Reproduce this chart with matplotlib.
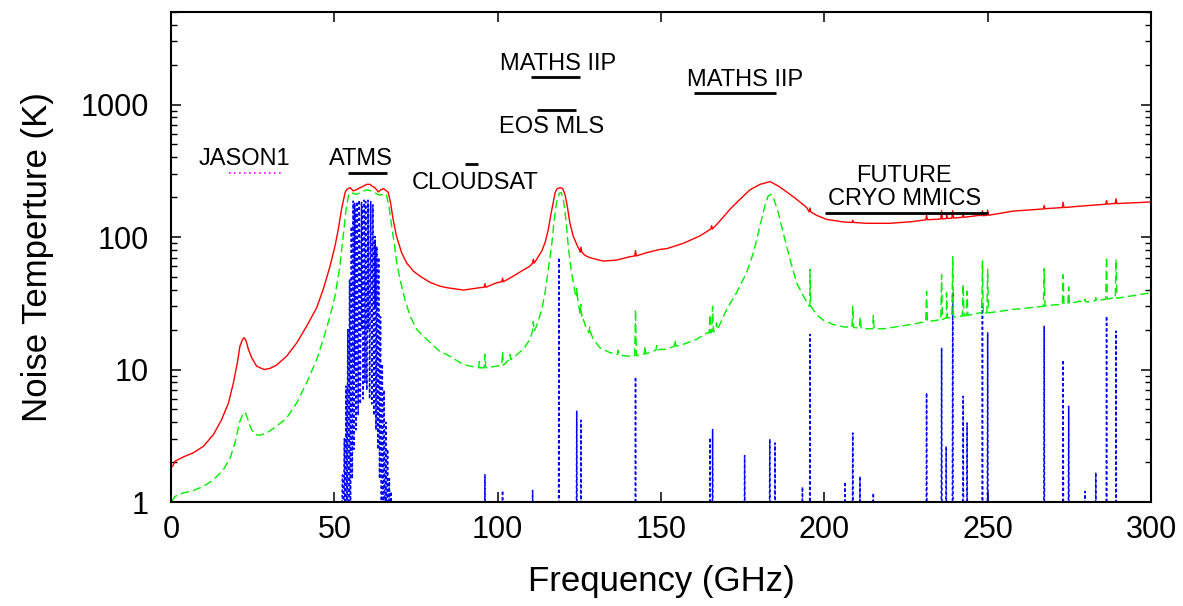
import numpy as np
import matplotlib
matplotlib.use("Agg")
import matplotlib.pyplot as plt
from matplotlib.ticker import FixedLocator, FixedFormatter, LogLocator, NullFormatter

plt.rcParams['font.family'] = ['Liberation Sans', 'DejaVu Sans']

# ---------------- data ----------------
# Red curve (solid) base points: frequency (GHz), noise temperature (K)
red_f = [0.5, 1.2, 3.8, 6.8, 9.9, 13.0, 15.5, 17.6, 19.1, 20.3, 21.1, 21.9, 22.4, 23.0, 23.7,
         24.7, 26.2, 28.5, 30.3, 32.3, 35.4, 38.5, 41.5, 44.6, 46.6, 48.7, 50.2, 51.2, 52.2,
         53.3, 53.8, 54.8, 55.8, 56.8, 57.9, 58.9, 59.9, 60.9, 61.6, 62.4, 63.5, 64.3, 65.0,
         66.0, 66.5, 67.2, 68.0, 69.0, 70.6, 72.1, 74.2, 76.2, 79.3, 82.3, 84.4, 89.5, 94.6,
         99.7, 104.8, 107.8, 109.9, 111.9, 113.5, 114.5, 115.5, 116.2, 117.0, 117.6, 118.2,
         119.1, 119.9, 120.6, 121.3, 122.1, 123.1, 124.2, 125.2, 126.7, 128.2, 132.3, 136.4,
         140.5, 145.6, 149.7, 151.7, 156.8, 161.9, 165.0, 168.0, 171.1, 174.2, 177.2, 180.3,
         183.4, 185.9, 188.5, 191.5, 194.6, 197.6, 200.7, 205.8, 212.9, 220.1, 227.2, 237.4,
         247.6, 257.8, 268.0, 278.2, 288.4, 300.0]
red_T = [1.86, 2.03, 2.19, 2.35, 2.63, 3.23, 4.19, 5.6, 7.93, 11.2, 15.0, 16.9, 17.4, 16.4, 14.2,
         12.3, 10.6, 10.0, 10.2, 10.8, 12.6, 15.9, 21.2, 29.3, 40.3, 60.4, 85.5, 114.0, 162.0,
         217.0, 229.0, 236.0, 223.0, 228.0, 236.0, 242.0, 250.0, 250.0, 242.0, 236.0, 219.0, 228.0, 232.0,
         223.0, 217.0, 182.0, 136.0, 102.0, 76.2, 64.0, 55.3, 50.7, 45.5, 42.6, 41.5, 39.8, 41.5,
         45.2, 50.7, 56.3, 60.4, 67.8, 78.4, 90.7, 114.0, 144.0, 182.0, 217.0, 232.0,
         236.0, 232.0, 210.0, 172.0, 128.0, 102.0, 88.0, 78.4, 72.8, 69.9, 65.9, 67.0,
         71.1, 76.2, 80.7, 81.7, 89.6, 102.0, 114.0, 132.0, 162.0, 193.0, 227.0, 250.0,
         262.0, 243.0, 219.0, 193.0, 167.0, 146.0, 136.0, 130.0, 127.0, 127.0, 131.0, 138.0,
         146.0, 157.0, 164.0, 171.0, 179.0, 184.0]

# Red narrow lines: frequency, level just beside the line, line top
red_spike_f = [96.1, 101.5, 110.9, 125.5, 142.2, 165.5, 195.6, 208.7, 231.3, 235.9, 237.4,
               239.3, 242.5, 248.4, 250.0, 267.3, 273.1, 286.4, 289.3]
red_spike_base = [41.8, 46.0, 63.5, 77.0, 72.0, 115.0, 155.0, 129.0, 135.0, 137.0, 138.0,
                  139.0, 141.0, 145.0, 146.0, 163.0, 167.0, 177.0, 179.0]
red_spike_top = [44.5, 49.0, 68.0, 84.0, 79.0, 122.0, 166.0, 134.0, 147.0, 158.0, 149.0,
                 158.0, 151.0, 158.0, 160.0, 173.0, 183.0, 189.0, 195.0]

# Green curve (dashed) base points
green_f = [0.2, 1.2, 3.8, 6.8, 9.9, 13.0, 16.0, 18.1, 19.6, 20.9, 21.9, 22.65, 23.4, 24.4,
           25.7, 27.2, 29.3, 32.3, 35.4, 38.5, 41.5, 44.6, 46.6, 48.7, 50.2, 51.7, 52.7, 53.6,
           54.3, 54.8, 55.8, 56.8, 58.0, 59.9, 61.0, 62.4, 63.2, 64.0, 65.5, 65.9, 66.7, 67.4,
           68.3, 69.1, 70.1, 71.6, 73.2, 75.2, 77.2, 79.3, 82.3, 84.4, 89.5, 94.6, 99.7, 104.8,
           107.8, 109.9, 111.9, 113.5, 114.5, 115.5, 116.5, 117.2, 118.0, 118.9, 119.4, 120.1,
           120.9, 121.6, 122.6, 124.2, 125.7, 127.2, 129.3, 131.3, 134.4, 137.4, 140.5, 145.6,
           149.7, 151.7, 156.8, 160.9, 164.0, 167.0, 170.1, 173.1, 176.2, 178.3, 180.3, 181.8,
           182.8, 183.6, 184.4, 185.9, 187.4, 189.5, 191.5, 193.6, 195.6, 197.6, 199.7, 202.7,
           205.8, 211.9, 218.0, 227.2, 237.4, 247.6, 257.8, 268.0, 278.2, 288.4, 300.0]
green_T = [1.01, 1.10, 1.17, 1.22, 1.31, 1.47, 1.75, 2.15, 2.79, 3.95, 4.57, 4.76, 4.31, 3.62,
           3.23, 3.19, 3.32, 3.73, 4.31, 5.6, 7.93, 11.9, 16.9, 25.3, 35.8, 60.4, 102.0, 162.0,
           204.0, 217.0, 214.0, 210.0, 218.0, 227.0, 224.0, 217.0, 210.0, 207.0, 213.0, 210.0, 172.0, 128.0,
           90.7, 64.0, 47.9, 33.8, 25.3, 20.1, 17.9, 16.0, 13.7, 13.0, 10.9, 10.3, 10.6, 12.3,
           14.2, 16.9, 21.2, 28.4, 38.0, 57.0, 85.5, 128.0, 182.0, 214.0, 217.0, 193.0,
           136.0, 85.5, 53.8, 35.8, 25.3, 20.1, 16.9, 14.6, 13.4, 12.8, 12.6, 13.2,
           14.2, 14.2, 15.5, 16.9, 18.9, 22.5, 28.4, 38.0, 53.8, 76.2, 121.0, 172.0,
           204.0, 210.0, 199.0, 153.0, 108.0, 67.8, 45.2, 35.8, 30.1, 26.0, 23.6, 21.9,
           21.0, 20.3, 20.3, 22.0, 24.5, 26.8, 28.4, 30.5, 32.8, 34.8, 38.0]

green_spike_f = [94.4, 96.1, 101.5, 103.8, 110.9, 124.2, 125.5, 128.2, 136.9, 142.2, 145.1,
                 148.7, 154.3, 165.0, 165.8, 167.0, 195.6, 208.7, 211.0, 215.0, 231.3, 235.9,
                 237.4, 239.3, 242.5, 243.7, 248.4, 250.0, 267.3, 273.1, 274.8, 279.8, 283.1,
                 286.4, 289.3]
green_spike_base = [10.3, 10.3, 10.8, 11.9, 19.5, 35.0, 26.0, 19.0, 13.0, 12.7, 13.1,
                    14.0, 15.0, 18.9, 19.2, 20.0, 30.1, 20.8, 20.5, 20.3, 23.0, 23.8,
                    24.5, 24.8, 25.4, 25.6, 26.5, 26.8, 30.0, 31.0, 31.4, 32.3, 33.0,
                    34.0, 34.5]
green_spike_top = [11.5, 13.0, 13.7, 13.0, 23.0, 41.0, 31.0, 21.0, 14.0, 28.4, 15.0,
                   15.2, 16.8, 26.0, 30.0, 22.0, 57.0, 30.0, 25.0, 25.6, 39.0, 52.0,
                   38.0, 71.0, 44.0, 39.0, 66.0, 57.0, 57.6, 52.0, 42.0, 34.0, 35.0,
                   71.0, 68.0]

# Blue curve (dotted): oxygen band near 60 GHz (alternating line peaks and gaps)
blue_band_f = [52.2, 52.5, 52.8, 53.07, 53.3, 53.6, 53.85, 54.13, 54.4, 54.67, 54.95, 55.22,
               55.5, 55.78, 56.0, 56.26, 56.31, 56.36, 56.65, 56.97, 57.3, 57.61, 57.95, 58.32,
               58.38, 58.45, 58.8, 59.16, 59.38, 59.59, 59.95, 60.31, 60.37, 60.43, 60.8, 61.15,
               61.48, 61.8, 62.1, 62.41, 62.45, 62.49, 62.75, 62.99, 63.3, 63.57, 63.85, 64.13,
               64.4, 64.68, 64.95, 65.22, 65.5, 65.76, 66.0, 66.3, 66.55, 66.84, 67.1, 67.37, 67.6]
blue_band_T = [0.5, 1.6, 0.5, 3.0, 0.5, 7.5, 0.5, 20.0, 0.6, 48.0, 0.8, 120.0,
               1.5, 187.0, 2.5, 180.0, 10.0, 160.0, 3.5, 185.0, 4.5, 190.0, 5.5, 185.0,
               20.0, 170.0, 6.0, 190.0, 8.0, 185.0, 7.0, 190.0, 20.0, 175.0, 6.0, 185.0,
               5.5, 175.0, 4.5, 101.0, 30.0, 95.0, 3.5, 85.0, 2.5, 70.0, 1.5, 25.0,
               0.8, 11.0, 0.6, 7.0, 0.5, 4.0, 0.5, 2.5, 0.5, 1.5, 0.5, 1.2, 0.5]

# Blue isolated lines: frequency, line top
blue_spike_f = [96.1, 101.5, 110.7, 118.75, 124.2, 125.5, 142.2, 165.0, 165.8, 175.6, 183.3,
                184.9, 193.3, 195.6, 206.3, 208.7, 210.9, 215.0, 231.3, 235.9, 237.3, 239.3,
                242.5, 243.7, 248.4, 250.0, 267.3, 273.1, 274.8, 279.8, 283.1, 286.4, 289.3]
blue_spike_top = [1.61, 1.22, 1.22, 70.0, 4.84, 4.14, 8.8, 3.05, 3.52, 2.24, 2.99,
                  2.79, 1.3, 18.4, 1.42, 3.32, 1.56, 1.17, 6.67, 14.6, 2.63, 38.0,
                  6.28, 3.95, 30.0, 18.9, 21.2, 11.8, 5.28, 1.2, 1.67, 25.3, 19.5]

# Instrument bands: label, text position (GHz, K), bar start/end (GHz), bar level (K)
band_labels = ["JASON1", "ATMS", "CLOUDSAT", "EOS MLS", "MATHS IIP", "MATHS IIP", "FUTURE\nCRYO MMICS"]
band_text_f = [22.4, 58.1, 93.1, 116.5, 118.5, 175.7, 224.5]
band_text_T = [387, 387, 255, 681, 2037, 1543, 236]
band_start = [17.8, 54.3, 90.0, 112.1, 110.1, 160.2, 200.2]
band_end = [34.4, 66.0, 94.0, 124.0, 125.2, 185.2, 250.2]
band_level = [303, 303, 354, 912, 1619, 1213, 151]

x_ticks = [0, 50, 100, 150, 200, 250, 300]
y_ticks = [1, 10, 100, 1000]
y_ticklabels = ["1", "10", "100", "1000"]


def with_spikes(f, T, sf, sb, st):
    pts = list(zip(f, T))
    for fi, b, t in zip(sf, sb, st):
        pts += [(fi - 0.25, b), (fi, t), (fi + 0.25, b)]
    pts.sort(key=lambda p: p[0])
    return [p[0] for p in pts], [p[1] for p in pts]


def blue_line(bf, bT, sf, st):
    pts = list(zip(bf, bT))
    for fi, t in zip(sf, st):
        pts += [(fi - 0.12, 0.4), (fi, t), (fi + 0.12, 0.4)]
    pts.sort(key=lambda p: p[0])
    return [p[0] for p in pts], [p[1] for p in pts]


fig = plt.figure(figsize=(11.83, 6.06), dpi=100)
ax = fig.add_axes([171 / 1183, 1 - 502 / 606, (1151 - 171) / 1183, (502 - 12) / 606])

bx, by = blue_line(blue_band_f, blue_band_T, blue_spike_f, blue_spike_top)
ax.plot(bx, by, color='#0000ff', lw=1.1, linestyle=(0, (2.0, 1.6)))
gx, gy = with_spikes(green_f, green_T, green_spike_f, green_spike_base, green_spike_top)
ax.plot(gx, gy, color='#00ee00', lw=1.0, linestyle=(0, (6, 3)))
rx, ry = with_spikes(red_f, red_T, red_spike_f, red_spike_base, red_spike_top)
ax.plot(rx, ry, color='#ff0000', lw=1.0)

for i, lab in enumerate(band_labels):
    if lab == "JASON1":
        ax.plot([band_start[i], band_end[i]], [band_level[i]] * 2, color='#ff00ff',
                lw=1.2, linestyle=(0, (1, 2)))
    else:
        ax.plot([band_start[i], band_end[i]], [band_level[i]] * 2, color='black', lw=2.0,
                solid_capstyle='butt')
    ax.text(band_text_f[i], band_text_T[i], lab, ha='center', va='center', fontsize=17,
            linespacing=1.05)

ax.set_yscale('log')
ax.set_xlim(0, 300)
ax.set_ylim(1, 5000)
ax.xaxis.set_major_locator(FixedLocator(x_ticks))
ax.yaxis.set_major_locator(FixedLocator(y_ticks))
ax.yaxis.set_major_formatter(FixedFormatter(y_ticklabels))
ax.yaxis.set_minor_locator(LogLocator(base=10, subs=np.arange(2, 10)))
ax.yaxis.set_minor_formatter(NullFormatter())

ax.tick_params(axis='both', which='major', direction='in', length=7.5, width=1.1,
               top=True, right=True, labelsize=22, colors='black')
ax.tick_params(axis='y', which='minor', direction='in', length=4, width=1.0,
               left=True, right=True)
ax.tick_params(axis='y', which='major', pad=16)
ax.tick_params(axis='x', which='major', pad=9)
for s in ax.spines.values():
    s.set_linewidth(1.5)

ax.set_xlabel("Frequency (GHz)", fontsize=25, labelpad=15)
ax.set_ylabel("Noise Temperture (K)", fontsize=25, labelpad=19)

fig.savefig("out.png", dpi=100)
